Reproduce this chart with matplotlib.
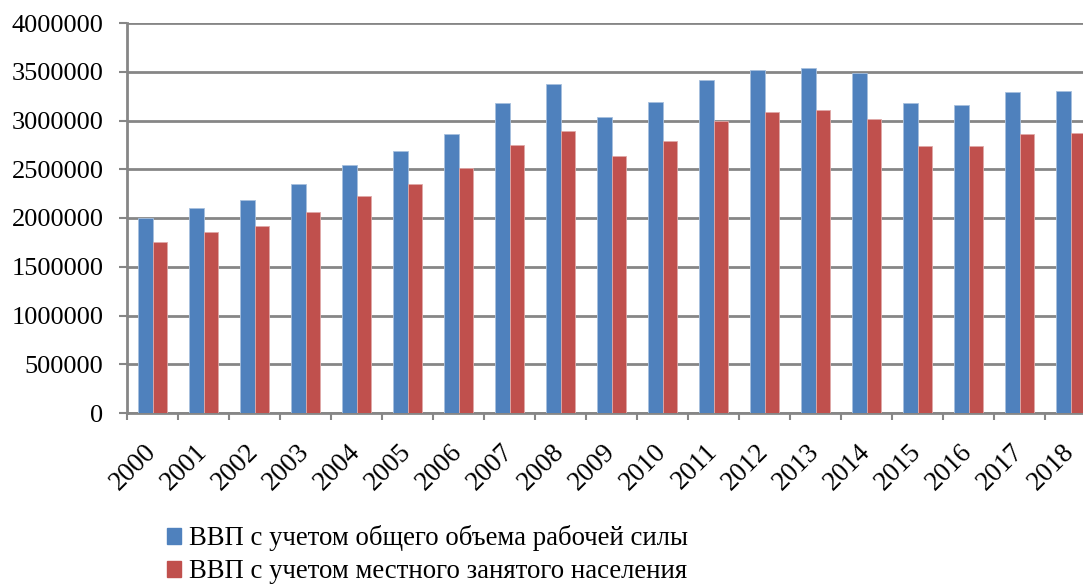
import numpy as np
import matplotlib.pyplot as plt
from matplotlib.patches import Patch

plt.rcParams['font.family'] = ['Liberation Serif', 'DejaVu Serif']

years = [str(y) for y in range(2000, 2019)]
gdp_total_labour = [2000000, 2100000, 2180000, 2350000, 2540000, 2688000, 2860000,
                    3180000, 3370000, 3040000, 3190000, 3420000, 3520000, 3540000,
                    3490000, 3180000, 3160000, 3290000, 3300000]
gdp_local_employed = [1755000, 1857000, 1920000, 2060000, 2229000, 2350000, 2516000,
                      2750000, 2897000, 2635000, 2790000, 2990000, 3090000, 3110000,
                      3020000, 2740000, 2740000, 2860000, 2870000]
series_names = ['ВВП с учетом общего объема рабочей силы',
                'ВВП с учетом местного занятого населения']

blue = '#4F81BD'
red = '#C0504D'
grey = '#868686'

fig = plt.figure(figsize=(10.83, 5.87), dpi=100)
# plot area runs a little past the right edge, like the cropped original
ax = fig.add_axes([127 / 1083, 1 - 413 / 587, 969 / 1083, 390 / 587])

x = np.arange(len(years))
w = 0.285
ax.bar(x - w / 2, gdp_total_labour, w, color=blue, edgecolor='#A7C0DE', linewidth=0.6, zorder=3)
ax.bar(x + w / 2, gdp_local_employed, w, color=red, edgecolor='#E0A9A8', linewidth=0.6, zorder=3)

ax.set_xlim(-0.5, len(years) - 0.5)
ax.set_ylim(0, 4000000)
ax.set_yticks(np.arange(0, 4000001, 500000))
ax.set_yticklabels([str(v) for v in range(0, 4000001, 500000)], fontsize=19)
ax.yaxis.grid(True, color=grey, linewidth=2)
ax.set_axisbelow(True)

ax.set_xticks(x)
ax.set_xticklabels(years, fontsize=19.5, rotation=45, ha='right', va='center',
                   rotation_mode='anchor')
ax.tick_params(axis='x', which='major', length=0, pad=25)
ax.set_xticks(np.arange(-0.5, len(years), 1), minor=True)
ax.tick_params(axis='x', which='minor', length=5, width=1.5, color=grey)
ax.tick_params(axis='y', length=6, width=1.5, color=grey, pad=11)

for side in ['top', 'right']:
    ax.spines[side].set_visible(False)
for side in ['left', 'bottom']:
    ax.spines[side].set_color(grey)
    ax.spines[side].set_linewidth(2)

handles = [Patch(color=blue), Patch(color=red)]
fig.legend(handles, series_names, loc='upper left', bbox_to_anchor=(154 / 1083, 1 - 512 / 587),
           frameon=False, fontsize=19.3, handlelength=0.5, handleheight=0.5,
           handletextpad=0.3, labelspacing=0.3, borderpad=0)

fig.savefig('out.png', dpi=100)
